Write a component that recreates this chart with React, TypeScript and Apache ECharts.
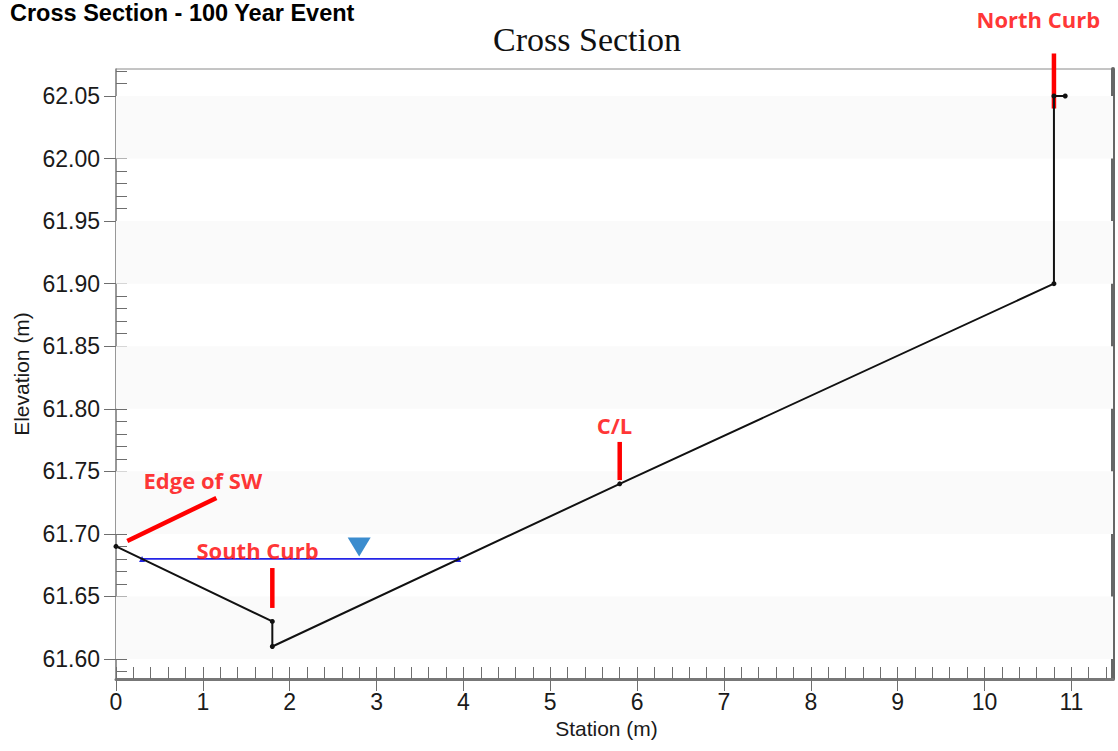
import React, { useEffect, useRef } from 'react';
import * as echarts from 'echarts';

// ---- data ----
const groundStation = [0, 1.8, 1.8, 5.8, 10.8, 10.8, 10.93];
const groundElevation = [61.69, 61.63, 61.61, 61.74, 61.9, 62.05, 62.05];

const waterStation = [0.3, 3.94];
const waterElevation = [61.68, 61.68];
const waterMarkerStation = 2.8;

const stationMin = 0;
const stationMax = 11.48;
const elevationMin = 61.584;
const elevationMax = 62.0716;

const xTickValues = [0, 1, 2, 3, 4, 5, 6, 7, 8, 9, 10, 11];
const yTickValues = [61.6, 61.65, 61.7, 61.75, 61.8, 61.85, 61.9, 61.95, 62.0, 62.05];

const annotationNames = ['North Curb', 'C/L', 'Edge of SW', 'South Curb'];
const annotationStation = [10.62, 5.74, 1.0, 1.63];
const annotationElevation = [62.1116, 61.787, 61.743, 61.687];
const annotationLineFrom = [
  [10.8, 62.04],
  [5.8, 61.743],
  [0.13, 61.6943],
  [1.8, 61.6408],
];
const annotationLineTo = [
  [10.8, 62.084],
  [5.8, 61.7735],
  [1.156, 61.7287],
  [1.8, 61.6727],
];

const bandPairs = [
  [61.6, 61.65],
  [61.7, 61.75],
  [61.8, 61.85],
  [61.9, 61.95],
  [62.0, 62.05],
];

const minorX: number[] = [];
for (let i = 0; i <= 57; i++) minorX.push(Math.round(i * 0.2 * 10) / 10);
const minorY: number[] = [];
for (let i = 59; i <= 107; i++) minorY.push(Math.round((61.0 + i * 0.01) * 100) / 100);

export default function App() {
  const ref = useRef<HTMLDivElement>(null);
  useEffect(() => {
    const chart = echarts.init(ref.current!, null, { renderer: 'svg' });
    const sans = '"Liberation Sans", Arial, sans-serif';
    const tickColor = '#6e6e6e';

    const annotationLineSeries = annotationLineFrom.map((from, i) => ({
      type: 'line',
      name: 'ann-line-' + i,
      data: [from, annotationLineTo[i]],
      xAxisIndex: 0,
      yAxisIndex: 0,
      symbol: 'none',
      clip: false,
      silent: true,
      lineStyle: { color: '#ff0000', width: 4.5, cap: 'butt' },
      z: 4,
    }));

    chart.setOption({
      animation: false,
      backgroundColor: '#ffffff',
      title: [
        {
          text: 'Cross Section - 100 Year Event',
          left: 10,
          top: 1,
          padding: 0,
          textStyle: { fontFamily: sans, fontWeight: 'bold', fontSize: 23.5, color: '#000' },
        },
        {
          text: 'Cross Section',
          left: 587,
          textAlign: 'center',
          top: 22,
          padding: 0,
          textStyle: { fontFamily: '"Liberation Serif", "Times New Roman", serif', fontWeight: 'normal', fontSize: 34, color: '#111' },
        },
      ],
      grid: {
        left: 116,
        top: 69,
        right: 5,
        bottom: 72,
        show: true,
        borderColor: '#8a8a8a',
        borderWidth: 1,
        backgroundColor: 'transparent',
      },
      xAxis: [
        {
          type: 'value',
          min: stationMin,
          max: stationMax,
          position: 'bottom',
          axisLine: { show: true, onZero: false, lineStyle: { color: '#777', width: 3 } },
          axisTick: { show: true, inside: false, length: 12, customValues: xTickValues, lineStyle: { color: tickColor, width: 1 } },
          axisLabel: { fontSize: 23, color: '#1a1a1a', fontFamily: sans, margin: 11, customValues: xTickValues },
          splitLine: { show: false },
          name: 'Station (m)',
          nameLocation: 'middle',
          nameGap: 37,
          nameTextStyle: { fontSize: 21, color: '#1a1a1a', fontFamily: sans, padding: [0, 16, 0, 0] },
        },
        {
          type: 'value',
          min: stationMin,
          max: stationMax,
          position: 'bottom',
          axisLine: { show: false, onZero: false },
          axisTick: { show: true, inside: true, length: 12, customValues: minorX, lineStyle: { color: tickColor, width: 1 } },
          axisLabel: { show: false },
          splitLine: { show: false },
        },
      ],
      yAxis: [
        {
          type: 'value',
          min: elevationMin,
          max: elevationMax,
          position: 'left',
          axisLine: { show: true, onZero: false, lineStyle: { color: '#888', width: 1.5 } },
          axisTick: { show: true, inside: false, length: 12, customValues: yTickValues, lineStyle: { color: tickColor, width: 1 } },
          axisLabel: {
            fontSize: 23,
            color: '#1a1a1a',
            fontFamily: sans,
            margin: 16,
            customValues: yTickValues,
            formatter: (v: number) => Number(v).toFixed(2),
          },
          splitLine: { show: false },
          name: 'Elevation (m)',
          nameLocation: 'middle',
          nameGap: 80,
          nameTextStyle: { fontSize: 21, color: '#1a1a1a', fontFamily: sans },
        },
        {
          type: 'value',
          min: elevationMin,
          max: elevationMax,
          position: 'left',
          axisLine: { show: false, onZero: false },
          axisTick: { show: true, inside: true, length: 11, customValues: minorY, lineStyle: { color: tickColor, width: 1 } },
          axisLabel: { show: false },
          splitLine: { show: false },
        },
        {
          type: 'value',
          min: elevationMin,
          max: elevationMax,
          position: 'right',
          axisLine: { show: true, onZero: false, lineStyle: { color: '#666', width: 4 } },
          axisTick: { show: false },
          axisLabel: { show: false },
          splitLine: { show: false },
        },
      ],
      series: [
        {
          type: 'line',
          name: 'bands',
          data: [],
          xAxisIndex: 0,
          yAxisIndex: 0,
          silent: true,
          markArea: {
            silent: true,
            itemStyle: { color: '#fafafa' },
            data: bandPairs.map(([a, b]) => [{ yAxis: a }, { yAxis: b }]),
          },
          z: 0,
        },
        ...annotationLineSeries,
        {
          type: 'line',
          name: 'Water Surface',
          data: waterStation.map((s, i) => [s, waterElevation[i]]),
          xAxisIndex: 0,
          yAxisIndex: 0,
          symbol: 'triangle',
          symbolSize: 6,
          showAllSymbol: true,
          itemStyle: { color: '#2424e6' },
          lineStyle: { color: '#2424e6', width: 1.6 },
          z: 3,
        },
        {
          type: 'line',
          name: 'Ground',
          data: groundStation.map((s, i) => [s, groundElevation[i]]),
          xAxisIndex: 0,
          yAxisIndex: 0,
          symbol: 'circle',
          symbolSize: 5,
          showAllSymbol: true,
          itemStyle: { color: '#111' },
          lineStyle: { color: '#111', width: 2 },
          z: 5,
        },
        {
          type: 'scatter',
          name: 'WS marker',
          data: [[waterMarkerStation, waterElevation[0]]],
          xAxisIndex: 0,
          yAxisIndex: 0,
          symbol: 'path://M0,0L20,0L10,17Z',
          symbolKeepAspect: false,
          symbolSize: [23, 19],
          symbolOffset: [0, -12],
          itemStyle: { color: '#0a6fc2' },
          z: 6,
        },
        {
          type: 'scatter',
          name: 'Annotations',
          data: annotationNames.map((n, i) => ({ name: n, value: [annotationStation[i], annotationElevation[i]] })),
          xAxisIndex: 0,
          yAxisIndex: 0,
          clip: false,
          silent: true,
          symbolSize: 1,
          itemStyle: { color: 'transparent' },
          label: {
            show: true,
            position: 'inside',
            formatter: (p: any) => p.name,
            color: '#ff0000',
            fontFamily: '"Open Sans", "Noto Sans", sans-serif',
            fontWeight: 'bold',
            fontSize: 22,
          },
          z: 7,
        },
      ],
    });
    return () => chart.dispose();
  }, []);
  return <div ref={ref} style={{ position: 'fixed', left: 0, top: 0, width: 1118, height: 751 }} />;
}
